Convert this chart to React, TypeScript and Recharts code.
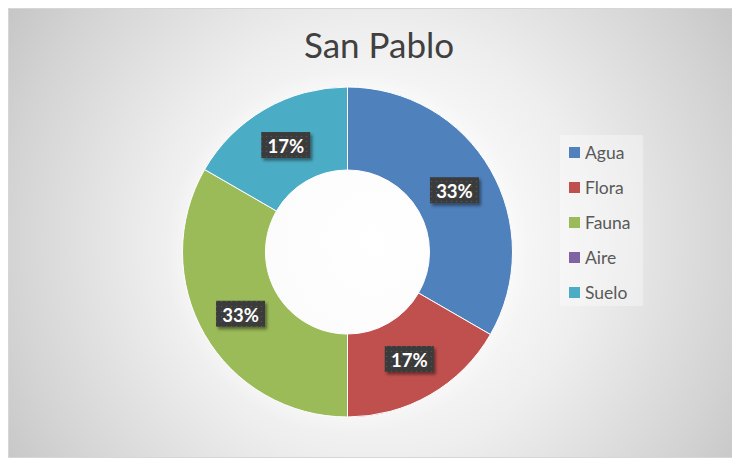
import React from "react";
import { PieChart, Pie, Cell, Legend } from "recharts";

const categories = ["Agua", "Flora", "Fauna", "Aire", "Suelo"];
const values = [2, 1, 2, 0, 1];
const colors = ["#4F81BD", "#C0504D", "#9BBB59", "#8064A2", "#4BACC6"];
const title = "San Pablo";

const data = categories.map((name, i) => ({ name, value: values[i] }));

const RADIAN = Math.PI / 180;

const renderLabel = (props: any) => {
  const { cx, cy, midAngle, innerRadius, outerRadius, percent, value } = props;
  if (!value) return null;
  const r = (innerRadius + outerRadius) / 2;
  const x = cx + r * Math.cos(-midAngle * RADIAN);
  const y = cy + r * Math.sin(-midAngle * RADIAN);
  const w = 49;
  const h = 26;
  return (
    <g>
      <rect
        x={x - w / 2}
        y={y - h / 2}
        width={w}
        height={h}
        fill="url(#dotsPattern)"
        filter="url(#boxShadow)"
      />
      <text
        x={x}
        y={y + 1}
        textAnchor="middle"
        dominantBaseline="central"
        fill="#ffffff"
        fontFamily="Lato, 'Open Sans', sans-serif"
        fontWeight={700}
        fontSize={18.5}
      >
        {`${Math.round(percent * 100)}%`}
      </text>
    </g>
  );
};

const renderLegend = (props: any) => {
  const { payload } = props;
  const items = [...(payload || [])].sort(
    (a: any, b: any) => categories.indexOf(a.value) - categories.indexOf(b.value)
  );
  return (
    <div
      style={{
        width: 83,
        height: 171,
        background: "rgba(255,255,255,0.35)",
        boxSizing: "border-box",
        paddingLeft: 9,
      }}
    >
      {items.map((entry: any, i: number) => (
        <div
          key={i}
          style={{
            height: 35,
            display: "flex",
            alignItems: "center",
          }}
        >
          <span
            style={{
              width: 11,
              height: 11,
              background: entry.color,
              display: "inline-block",
              marginRight: 5,
            }}
          />
          <span
            style={{
              fontFamily: "Lato, 'Open Sans', sans-serif",
              fontSize: 17.5,
              color: "#595959",
            }}
          >
            {entry.value}
          </span>
        </div>
      ))}
    </div>
  );
};

export default function App() {
  return (
    <div
      style={{
        position: "relative",
        width: 732,
        height: 450,
        boxSizing: "border-box",
        border: "1px solid #d6d6d6",
        background:
          "radial-gradient(circle farthest-corner at 50% 52%, #ffffff 0%, #f8f8f8 30%, #eeeeee 50%, #d3d3d3 85%, #c6c6c6 100%)",
        overflow: "hidden",
      }}
    >
      <svg
        width={730}
        height={448}
        style={{ position: "absolute", left: 0, top: 0, pointerEvents: "none" }}
      >
        <defs>
          <pattern
            id="dotsPattern"
            x={0}
            y={0}
            width={5}
            height={5}
            patternUnits="userSpaceOnUse"
          >
            <rect x={0} y={0} width={5} height={5} fill="#3a3a3a" />
            <circle cx={2.5} cy={2.5} r={0.8} fill="#545454" />
          </pattern>
          <filter id="boxShadow" x="-20%" y="-30%" width="150%" height="180%">
            <feDropShadow dx={2} dy={2.5} stdDeviation={1.6} floodColor="#000" floodOpacity={0.45} />
          </filter>
          <radialGradient id="glow">
            <stop offset="0%" stopColor="#ffffff" stopOpacity={0.5} />
            <stop offset="88%" stopColor="#ffffff" stopOpacity={0.35} />
            <stop offset="100%" stopColor="#ffffff" stopOpacity={0} />
          </radialGradient>
        </defs>
        <circle cx={338.5} cy={243} r={182} fill="url(#glow)" />
        <text
          x={370}
          y={49}
          textAnchor="middle"
          fill="#404040"
          fontFamily="Lato, 'Open Sans', sans-serif"
          fontSize={35}
        >
          {title}
        </text>
      </svg>
      <div style={{ position: "absolute", left: 0, top: 0 }}>
        <PieChart
          width={730}
          height={448}
          margin={{ top: 0, right: 0, bottom: 0, left: 0 }}
        >
          <Pie
            data={data}
            dataKey="value"
            nameKey="name"
            cx={338.5}
            cy={243}
            innerRadius={82}
            outerRadius={165}
            startAngle={90}
            endAngle={-270}
            stroke="#ffffff"
            strokeWidth={1}
            label={renderLabel}
            labelLine={false}
            isAnimationActive={false}
          >
            {data.map((d, i) => (
              <Cell key={d.name} fill={colors[i]} />
            ))}
          </Pie>
          <Legend
            layout="vertical"
            verticalAlign="middle"
            align="right"
            itemSorter={(item: any) => categories.indexOf(item.value)}
            content={renderLegend}
            wrapperStyle={{ left: 551, top: 126, width: 83, height: 171 }}
          />
        </PieChart>
      </div>
    </div>
  );
}
